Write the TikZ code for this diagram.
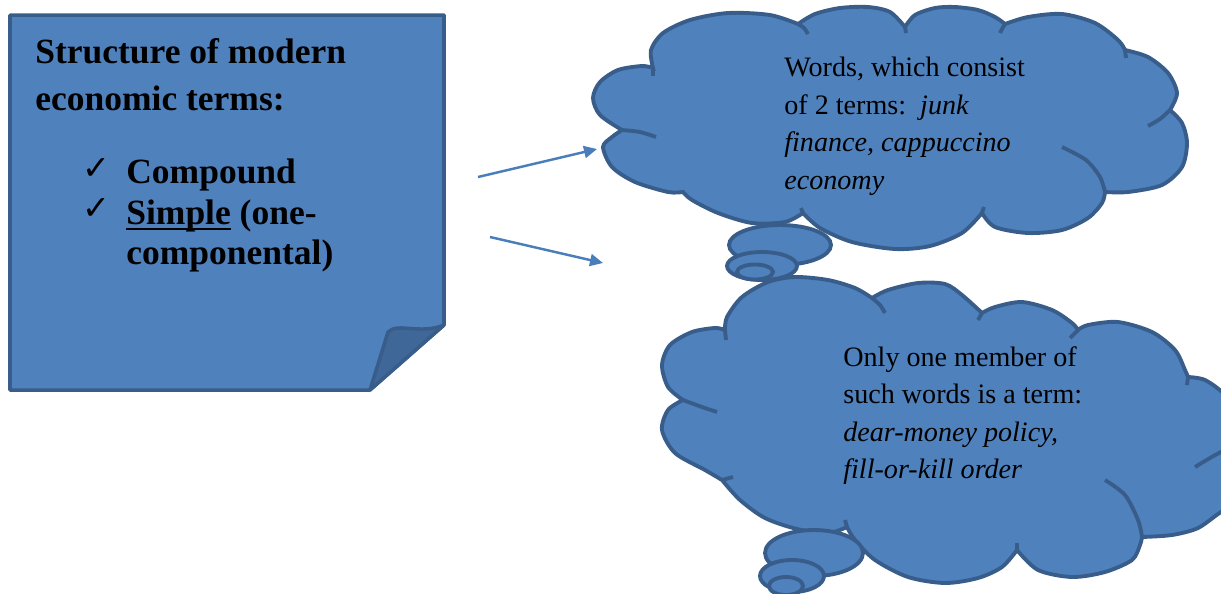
\documentclass[tikz,border=0pt]{standalone}
\usepackage{fontspec}
\setmainfont{Liberation Serif}
\newfontfamily\symfont{DejaVu Sans}
\usetikzlibrary{shapes.geometric, arrows, arrows.meta}
\definecolor{noteblue}{HTML}{4F81BD}
\definecolor{noteline}{HTML}{385D8A}
\definecolor{notefold}{HTML}{3F6797}
\definecolor{arrowblue}{HTML}{4A7EBB}
\tikzstyle{note} = [fill=noteblue, draw=noteline, line width=2pt, line join=round]
\tikzstyle{puffs} = [fill=noteblue, draw=noteline, line width=2.2pt, line join=miter]
\tikzstyle{seam} = [draw=noteline, line width=2.2pt]
\tikzstyle{bubble} = [ellipse, fill=noteblue, draw=noteline, line width=2.2pt, inner sep=0pt]
\tikzstyle{headtext} = [anchor=north west, align=left, inner sep=0pt, font=\bfseries\fontsize{20.2}{26.6}\selectfont]
\tikzstyle{listtext} = [anchor=north west, inner sep=0pt, font=\bfseries\fontsize{20.2}{23.2}\selectfont]
\tikzstyle{cloudtext} = [anchor=north west, align=left, inner sep=0pt, font=\fontsize{16}{21.3}\selectfont]
\tikzstyle{arrow} = [line width=1.4pt, arrowblue, -{Triangle[length=0.26cm, width=0.24cm]}]
\newcommand{\ck}{{\symfont\fontsize{19}{19}\selectfont\mdseries\raisebox{2.5pt}{✓}}}
\newsavebox{\ulbox}
\newcommand{\thickul}[1]{\sbox{\ulbox}{#1}\rlap{\rule[-3.4pt]{\wd\ulbox}{1.2pt}}\usebox{\ulbox}}

\begin{document}
\begin{tikzpicture}[x=0.02cm, y=-0.02cm]
\useasboundingbox (0,0) rectangle (1221,593);

% Note with folded corner
\draw[note] (10,15) -- (444,15) -- (444,325) -- (370,390) -- (10,390) -- cycle;
\draw[note, fill=notefold] (370,390) -- (388,332) .. controls (398,322) and (420,335) .. (444,325) -- cycle;

\node (head) [headtext] at (35,38) {Structure of modern\\economic terms:};
\node (kinds) [listtext] at (82,154.5) {\begin{tabular}{@{}p{0.88cm}@{}l@{}}
\ck & Compound\\
\ck & \thickul{Simple} (one-\\
 & componental)
\end{tabular}};

% Thought cloud 1
\draw[puffs] plot[smooth] coordinates {(653,68) (651,50) (663,33) (690,20) (728,13) (770,15) (798,24)}
 -- plot[smooth] coordinates {(798,24) (815,14) (840,8) (868,7) (890,12) (905,27)}
 -- plot[smooth] coordinates {(905,27) (915,15) (935,8) (955,7) (978,10) (995,17) (1005,24)}
 -- plot[smooth] coordinates {(1005,24) (1028,17) (1062,14) (1095,23) (1118,40) (1125,50)}
 -- plot[smooth] coordinates {(1125,50) (1148,57) (1168,73) (1177,93) (1170,110)}
 -- plot[smooth] coordinates {(1170,110) (1182,123) (1187,143) (1182,167) (1162,185) (1128,192) (1105,192)}
 -- plot[smooth] coordinates {(1105,192) (1102,203) (1088,218) (1062,230) (1028,233) (995,227) (982,213)}
 -- plot[smooth] coordinates {(982,213) (962,233) (930,246) (895,249) (852,242) (820,228) (803,213)}
 -- plot[smooth] coordinates {(803,213) (785,222) (752,223) (718,213) (692,200) (683,192)}
 -- plot[smooth] coordinates {(683,192) (668,192) (635,182) (612,167) (603,147) (612,137) (622,130)}
 -- plot[smooth] coordinates {(622,130) (600,115) (593,98) (600,82) (618,70) (642,66) (653,68)} -- cycle;
\draw[seam] (653,68) -- (653,76);
\draw[seam] plot[smooth] coordinates {(798,24) (804,28) (808,34)};
\draw[seam] (905,27) -- (906,33);
\draw[seam] plot[smooth] coordinates {(1005,24) (1002,29) (1000,33)};
\draw[seam] (1125,50) -- (1126,58);
\draw[seam] plot[smooth] coordinates {(1170,110) (1160,119) (1148,126)};
\draw[seam] plot[smooth] coordinates {(1105,192) (1100,177) (1086,160) (1062,147)};
\draw[seam] (982,213) -- (984,207);
\draw[seam] (803,213) -- (801,208);
\draw[seam] plot[smooth] coordinates {(622,130) (640,132) (656,137)};
\node (tailA1) [bubble, minimum width=2.04cm, minimum height=0.8cm] at (780,245) {};
\node (tailA2) [bubble, minimum width=1.4cm, minimum height=0.56cm] at (762,266) {};
\node (tailA3) [bubble, minimum width=0.72cm, minimum height=0.3cm] at (755,272) {};
\node (wordsA) [cloudtext] at (784,57) {Words, which consist\\of 2 terms:\ \ \textit{junk}\\\textit{finance, cappuccino}\\\textit{economy}};

% Thought cloud 2
\draw[puffs] plot[smooth] coordinates {(725,330) (727,317) (742,297) (768,282) (795,277) (828,280) (855,288) (872,298)}
 -- plot[smooth] coordinates {(872,298) (888,290) (918,283) (945,284) (962,295) (982,313)}
 -- plot[smooth] coordinates {(982,313) (995,307) (1022,302) (1052,310) (1072,323) (1078,330)}
 -- plot[smooth] coordinates {(1078,330) (1088,325) (1118,322) (1152,332) (1175,350) (1185,370) (1188,377)}
 -- plot[smooth] coordinates {(1188,377) (1205,380) (1225,395) (1240,420) (1238,448)}
 -- plot[smooth] coordinates {(1238,448) (1250,475) (1244,500) (1221,512) (1198,528) (1172,535) (1142,537)}
 -- plot[smooth] coordinates {(1142,537) (1140,545) (1132,560) (1105,572) (1072,577) (1038,570) (1017,550)}
 -- plot[smooth] coordinates {(1017,550) (1002,567) (978,578) (945,583) (908,577) (875,560) (855,540) (847,527)}
 -- plot[smooth] coordinates {(847,527) (828,533) (797,529) (765,518) (740,500) (722,480)}
 -- plot[smooth] coordinates {(722,480) (705,470) (675,453) (662,430) (668,410) (683,400)}
 -- plot[smooth] coordinates {(683,400) (668,387) (662,365) (670,345) (692,332) (715,328) (725,330)} -- cycle;
\draw[seam] (725,330) -- (726,340);
\draw[seam] plot[smooth] coordinates {(872,298) (880,305) (885,313)};
\draw[seam] (982,313) -- (978,320);
\draw[seam] (1078,330) -- (1070,338);
\draw[seam] (1188,377) -- (1187,385);
\draw[seam] plot[smooth] coordinates {(1238,448) (1221,452) (1195,467)};
\draw[seam] plot[smooth] coordinates {(1142,537) (1138,520) (1125,495) (1105,480)};
\draw[seam] (1017,550) -- (1017,543);
\draw[seam] (847,527) -- (845,520);
\draw[seam] (722,480) -- (733,477);
\draw[seam] plot[smooth] coordinates {(683,400) (702,407) (717,412)};
\node (tailB1) [bubble, minimum width=1.96cm, minimum height=0.92cm] at (814,553) {};
\node (tailB2) [bubble, minimum width=1.28cm, minimum height=0.64cm] at (792,576) {};
\node (tailB3) [bubble, minimum width=0.68cm, minimum height=0.36cm] at (786,586) {};
\node (wordsB) [cloudtext] at (843,346) {Only one member of\\such words is a term:\\\textit{dear-money policy,}\\\textit{fill-or-kill order}};

% Arrows
\coordinate (fromA) at (478,177);
\coordinate (toA) at (597,149);
\coordinate (fromB) at (490,237);
\coordinate (toB) at (603,263);
\draw [arrow] (fromA) -- (toA);
\draw [arrow] (fromB) -- (toB);

\end{tikzpicture}
\end{document}
